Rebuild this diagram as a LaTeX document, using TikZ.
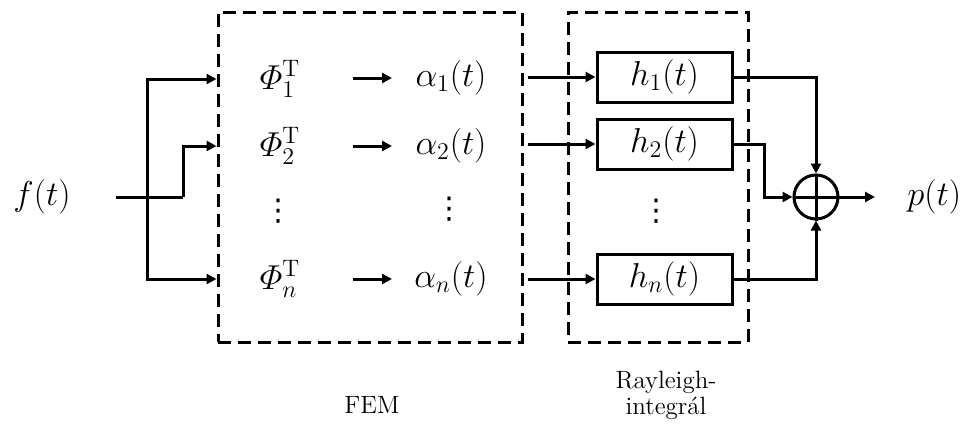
\documentclass[tikz,border=0pt]{standalone}
\usepackage{amsmath}
\usepackage{fontspec}
\newfontfamily\symfont{DejaVu Sans}
\usetikzlibrary{arrows.meta,calc}
\tikzset{
  wire/.style={line width=1.5pt},
  arr/.style={line width=1.5pt,-{Triangle[length=5pt,width=5pt]}},
  dashbox/.style={draw,line width=1.5pt,dash pattern=on 6.5pt off 3.5pt,inner sep=0pt},
  hbox/.style={draw,line width=1.5pt,minimum width=67.5pt,minimum height=25pt,inner sep=0pt,font=\fontsize{17}{20}\selectfont},
  mathlbl/.style={inner sep=0pt,font=\fontsize{17}{20}\selectfont},
  dotslbl/.style={inner sep=0pt,font=\symfont\fontsize{15}{18}\selectfont},
  txtlbl/.style={inner sep=0pt,align=center,font=\fontsize{12.5}{14}\selectfont}
}
\begin{document}
\begin{tikzpicture}[x=0.5pt,y=-0.5pt]
\useasboundingbox (0,0) rectangle (971,429);
% dashed boxes
\node[dashbox,minimum width=152pt,minimum height=165pt] (fem) at (370,177) {};
\node[dashbox,minimum width=90pt,minimum height=165pt] (ray) at (658,177) {};
% input
\node[mathlbl] (f) at (42,197) {$f(t)$};
\coordinate (src) at (116,197);
\coordinate (j) at (147,197);
\coordinate (k) at (183,197);
% phi
\node[mathlbl] (phi1) at (280,79) {$\varPhi_1^{\mathrm{T}}$};
\node[mathlbl] (phi2) at (280,146) {$\varPhi_2^{\mathrm{T}}$};
\node[dotslbl] (phid) at (278,211) {⋮};
\node[mathlbl] (phin) at (280,279) {$\varPhi_n^{\mathrm{T}}$};
% alpha
\node[mathlbl] (al1) at (451,78) {$\alpha_1(t)$};
\node[mathlbl] (al2) at (451,146) {$\alpha_2(t)$};
\node[dotslbl] (ald) at (449,209) {⋮};
\node[mathlbl] (aln) at (451,279) {$\alpha_n(t)$};
% h boxes
\node[hbox] (h1) at (664.5,77) {$h_1(t)$};
\node[hbox] (h2) at (664.5,144) {$h_2(t)$};
\node[dotslbl] (hd) at (656,211) {⋮};
\node[hbox] (hn) at (664.5,279) {$h_n(t)$};
% sum
\node[draw,circle,line width=1.5pt,minimum size=22pt,inner sep=0pt] (sum) at (816,197) {};
\draw[wire] (sum.north) -- (sum.south) (sum.west) -- (sum.east);
\node[mathlbl,anchor=west] (p) at (907,197) {$p(t)$};
% labels
\node[txtlbl] (femlbl) at (372,405) {FEM};
\node[txtlbl] (raylbl) at (666,395) {Rayleigh-\\[-1pt]integrál};
% input wiring
\draw[wire] (src) -- (k);
\draw[arr] (k) |- (fem.west |- phi2);
\draw[arr] (j) |- (fem.west |- phi1);
\draw[arr] (j) |- (fem.west |- phin);
% phi -> alpha
\draw[arr] ([xshift=36.5pt]phi1.center |- al1.center) -- ([xshift=-29.5pt]al1.center);
\draw[arr] ([xshift=36.5pt]phi2.center |- al2.center) -- ([xshift=-29.5pt]al2.center);
\draw[arr] ([xshift=36.5pt]phin.center |- aln.center) -- ([xshift=-29.5pt]aln.center);
% FEM -> h
\draw[arr] ([xshift=2pt]fem.east |- h1.west) -- (h1.west);
\draw[arr] ([xshift=2pt]fem.east |- h2.west) -- (h2.west);
\draw[arr] ([xshift=2pt]fem.east |- hn.west) -- (hn.west);
% h -> sum
\draw[arr] (h1.east) -| (sum.north);
\draw[arr] (h2.east) -- ++(31,0) |- (sum.west);
\draw[arr] (hn.east) -| (sum.south);
\draw[arr] (sum.east) -- ([xshift=-16pt]p.west);
\end{tikzpicture}
\end{document}
